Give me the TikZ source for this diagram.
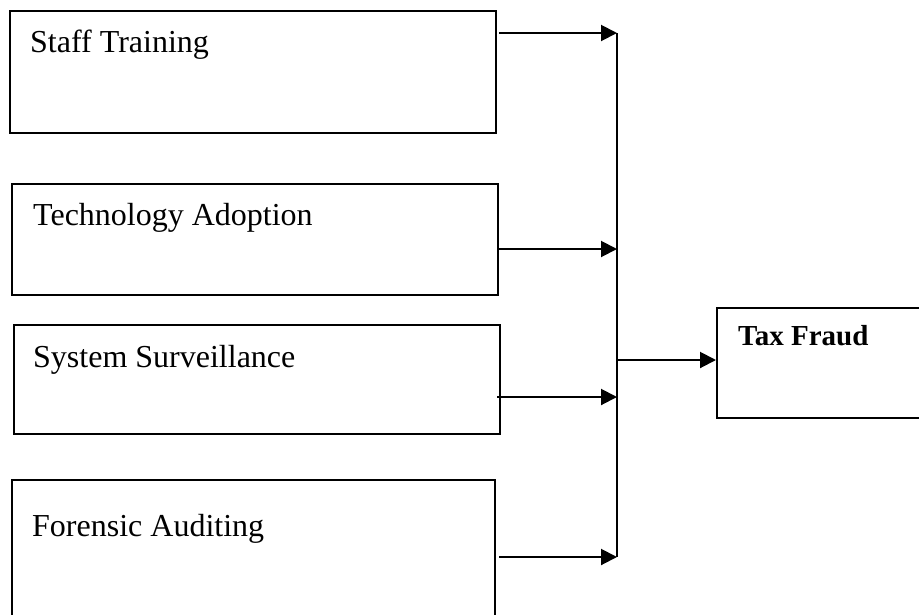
\documentclass[tikz,border=0pt]{standalone}
\usepackage{fontspec}
\setmainfont{Liberation Serif}
\usetikzlibrary{arrows.meta}
\begin{document}
\begin{tikzpicture}[x=1pt,y=-1pt,
  boxnode/.style={draw=black,line width=1.5pt,rectangle,anchor=north west,inner sep=0pt},
  lbl/.style={anchor=base west,inner sep=0pt,font=\fontsize{32}{38}\selectfont},
  blbl/.style={anchor=base west,inner sep=0pt,font=\fontsize{29}{35}\selectfont\bfseries},
  arr/.style={line width=2pt,-{Triangle[length=16pt,width=16pt]}},
  bus/.style={line width=1.5pt}]
\useasboundingbox[fill=white] (0,0) rectangle (919,614);
% boxes
\node[boxnode,minimum width=486pt,minimum height=122pt] (b1) at (9,10) {};
\node[boxnode,minimum width=486pt,minimum height=111pt] (b2) at (11,183) {};
\node[boxnode,minimum width=486pt,minimum height=109pt] (b3) at (13,324) {};
\node[boxnode,minimum width=483pt,minimum height=150pt] (b4) at (11,479) {};
\node[boxnode,minimum width=214pt,minimum height=110pt] (tax) at (716,307) {};
% labels
\node[lbl] (t1) at (30,52) {Staff Training};
\node[lbl] (t2) at (33,225) {Technology Adoption};
\node[lbl] (t3) at (33,367) {System Surveillance};
\node[lbl] (t4) at (32,536) {Forensic Auditing};
\node[blbl] (t5) at (738,345) {Tax Fraud};
% coordinates
\coordinate (s1) at (499,33);
\coordinate (s2) at (499,249);
\coordinate (s3) at (497,397);
\coordinate (s4) at (499,557);
\coordinate (j1) at (617,33);
\coordinate (j2) at (617,249);
\coordinate (j3) at (617,397);
\coordinate (j4) at (617,557);
\coordinate (j5) at (617,360);
% bus
\draw[bus] (j1) -- (j4);
% arrows
\draw[arr] (s1) -- (j1);
\draw[arr] (s2) -- (j2);
\draw[arr] (s3) -- (j3);
\draw[arr] (s4) -- (j4);
\draw[arr] (j5) -- (j5 -| tax.west);
\end{tikzpicture}
\end{document}
